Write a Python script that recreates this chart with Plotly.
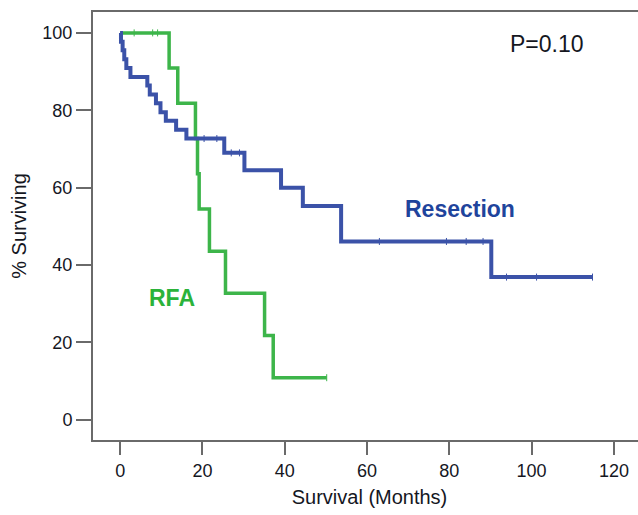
import plotly.graph_objects as go

# RFA survival (months, % surviving)
rfa_t = [0, 11.9, 14.0, 18.3, 18.8, 19.2, 21.7, 25.6, 35.1, 37.2, 50.2]
rfa_s = [100, 90.9, 81.8, 72.7, 63.6, 54.5, 43.6, 32.7, 21.8, 10.9, 10.9]
rfa_cens_t = [3.4, 7.9, 9.1, 50.2]
rfa_cens_s = [100, 100, 100, 10.9]

# Resection survival
res_t = [0, 0.2, 0.6, 1.0, 1.5, 2.5, 6.6, 7.2, 8.7, 9.8, 11.1, 13.6, 16.1,
         25.3, 30.2, 39.1, 44.4, 53.7, 90.2, 114.8]
res_s = [100, 97.7, 95.5, 93.2, 90.9, 88.6, 86.4, 84.1, 81.8, 79.5, 77.3, 75.0, 72.7,
         69.0, 64.5, 60.0, 55.3, 46.1, 36.9, 36.9]
res_cens_t = [20.4, 23.5, 27.0, 29.0, 63.0, 79.3, 84.1, 88.2, 93.9, 101.2, 114.8]
res_cens_s = [72.7, 72.7, 69.0, 69.0, 46.1, 46.1, 46.1, 46.1, 36.9, 36.9, 36.9]

x_ticks = [0, 20, 40, 60, 80, 100, 120]
y_ticks = [0, 20, 40, 60, 80, 100]

BLUE = "#3b52a8"
GREEN = "#3db54a"
FONT = "Liberation Sans, Arial, sans-serif"

fig = go.Figure()
fig.add_trace(go.Scatter(x=rfa_t, y=rfa_s, mode="lines", line=dict(shape="hv", color=GREEN, width=3.5),
                         name="RFA", showlegend=False, hoverinfo="skip"))
fig.add_trace(go.Scatter(x=res_t, y=res_s, mode="lines", line=dict(shape="hv", color=BLUE, width=4),
                         name="Resection", showlegend=False, hoverinfo="skip"))
fig.add_trace(go.Scatter(x=rfa_cens_t, y=rfa_cens_s, mode="markers",
                         marker=dict(symbol="line-ns", size=5, line=dict(color=GREEN, width=1)),
                         showlegend=False, hoverinfo="skip"))
fig.add_trace(go.Scatter(x=res_cens_t, y=res_cens_s, mode="markers",
                         marker=dict(symbol="line-ns", size=5, line=dict(color=BLUE, width=1)),
                         showlegend=False, hoverinfo="skip"))

fig.add_annotation(x=82.6, y=54.5, text="<b>Resection</b>", showarrow=False,
                   font=dict(family=FONT, size=23, color="#1f449c"))
fig.add_annotation(x=12.5, y=31.5, text="<b>RFA</b>", showarrow=False,
                   font=dict(family=FONT, size=23, color="#2bb33a"))
fig.add_annotation(x=103.7, y=97.2, text="P=0.10", showarrow=False,
                   font=dict(family=FONT, size=23, color="#15171f"))

fig.update_layout(
    width=646, height=515,
    margin=dict(l=93, r=0, t=12, b=75),
    paper_bgcolor="white", plot_bgcolor="white",
    font=dict(family=FONT, size=18, color="#15171f"),
    xaxis=dict(range=[-6.6, 127.8], tickvals=x_ticks, ticktext=[str(v) for v in x_ticks],
               automargin=False,
               showgrid=False, zeroline=False, showline=True, linecolor="#6a6a6a", linewidth=2,
               mirror=True, ticks="outside", ticklen=13, tickwidth=2, tickcolor="#6a6a6a",
               title=dict(text="Survival (Months)", font=dict(size=20), standoff=10)),
    yaxis=dict(range=[-5.2, 105.4], tickvals=y_ticks, ticktext=[str(v) for v in y_ticks],
               automargin=False,
               showgrid=False, zeroline=False, showline=True, linecolor="#6a6a6a", linewidth=2,
               ticks="outside", ticklen=15, tickwidth=2, tickcolor="#6a6a6a",
               title=dict(text="% Surviving", font=dict(size=20), standoff=10)),
)

fig.write_html("out.html", config={"displayModeBar": False},
               post_script="document.body.style.margin='0px';document.body.style.overflow='hidden';")
